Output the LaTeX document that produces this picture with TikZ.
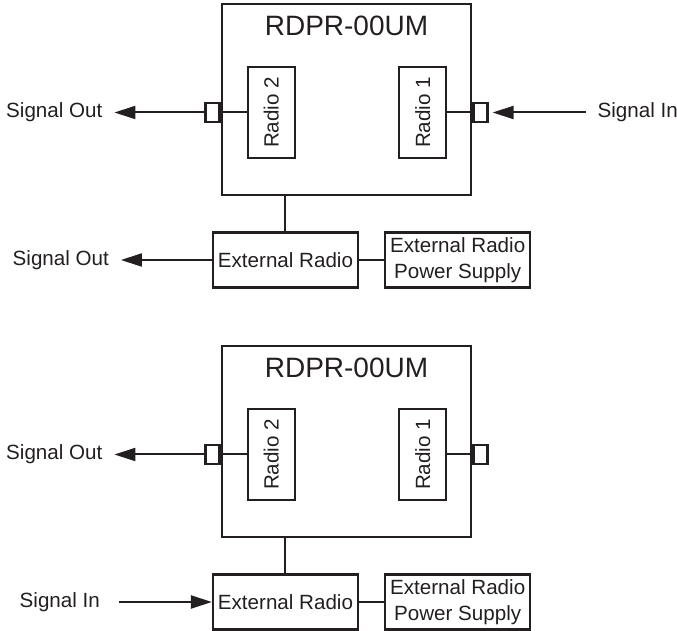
\documentclass[tikz,border=0pt]{standalone}
\usepackage{fontspec}
\setmainfont{Liberation Sans}
\usetikzlibrary{arrows.meta,positioning}
\definecolor{ink}{HTML}{231F20}
\tikzstyle{unit} = [rectangle, draw, line width=1.4pt, minimum width=124.5pt, minimum height=95.5pt]
\tikzstyle{title} = [font=\fontsize{14}{16}\selectfont]
\tikzstyle{radio} = [rectangle, draw, line width=1.1pt, minimum width=23.5pt, minimum height=45.5pt, inner sep=0pt]
\tikzstyle{port} = [rectangle, draw, line width=1.1pt, minimum width=7pt, minimum height=9.5pt, inner sep=0pt]
\tikzstyle{block} = [rectangle, draw, line width=1.1pt, minimum width=72.5pt, minimum height=27.5pt, align=center, inner sep=1pt]
\tikzstyle{sig} = [inner ysep=0pt, inner xsep=5.5pt]

\begin{document}
\begin{tikzpicture}[x=0.5pt, y=-0.5pt, color=ink, font=\fontsize{10.3}{13}\selectfont,
    line width=1pt, >={Triangle[length=10.5pt,width=6.5pt]}]
    \useasboundingbox (0,0) rectangle (677,631);

    % upper set-up: signal in on radio 1
    \node [unit] (main1) at (346.5,99.5) {};
    \node [title] (title1) at ([yshift=-11.5pt]main1.north) {RDPR-00UM};
    \node [radio, right=13pt of main1.west, yshift=-6.5pt] (rtwo1) {\rotatebox{90}{Radio 2}};
    \node [radio, left=12.5pt of main1.east, yshift=-6.5pt] (rone1) {\rotatebox{90}{Radio 1}};
    \node [port, anchor=east] (lport1) at (main1.west |- rtwo1) {};
    \node [port, anchor=west] (rport1) at (main1.east |- rone1) {};
    \node [sig, left=45pt of lport1] (out1) {Signal Out};
    \node [sig, right=48.5pt of rport1] (in1) {Signal In};
    \node [block, below=17.5pt of main1.south, xshift=-30.5pt] (ext1) {External Radio};
    \node [block, right=12.5pt of ext1] (psu1) {External Radio\\Power Supply};
    \node [sig, left=45.5pt of ext1] (extout1) {Signal Out};

    \draw (lport1) -- (rtwo1);
    \draw (rone1) -- (rport1);
    \draw[->] (lport1) -- (out1);
    \draw[->, shorten >=2pt] (in1) -- (rport1);
    \draw (main1.south -| ext1) -- (ext1);
    \draw (ext1) -- (psu1);
    \draw[->] (ext1) -- (extout1);

    % lower set-up: signal in on the external radio
    \begin{scope}[shift={(0,342)}]
    \node [unit] (main2) at (346.5,99.5) {};
    \node [title] (title2) at ([yshift=-11.5pt]main2.north) {RDPR-00UM};
    \node [radio, right=13pt of main2.west, yshift=-6.5pt] (rtwo2) {\rotatebox{90}{Radio 2}};
    \node [radio, left=12.5pt of main2.east, yshift=-6.5pt] (rone2) {\rotatebox{90}{Radio 1}};
    \node [port, anchor=east] (lport2) at (main2.west |- rtwo2) {};
    \node [port, anchor=west] (rport2) at (main2.east |- rone2) {};
    \node [sig, left=45pt of lport2] (out2) {Signal Out};
    \node [block, below=17.5pt of main2.south, xshift=-30.5pt] (ext2) {External Radio};
    \node [block, right=12.5pt of ext2] (psu2) {External Radio\\Power Supply};
    \node [sig, left=50pt of ext2] (extin2) {Signal In};

    \draw (lport2) -- (rtwo2);
    \draw (rone2) -- (rport2);
    \draw[->] (lport2) -- (out2);
    \draw (main2.south -| ext2) -- (ext2);
    \draw (ext2) -- (psu2);
    \draw[->, shorten <=3.5pt] (extin2) -- (ext2);
    \end{scope}
\end{tikzpicture}
\end{document}
